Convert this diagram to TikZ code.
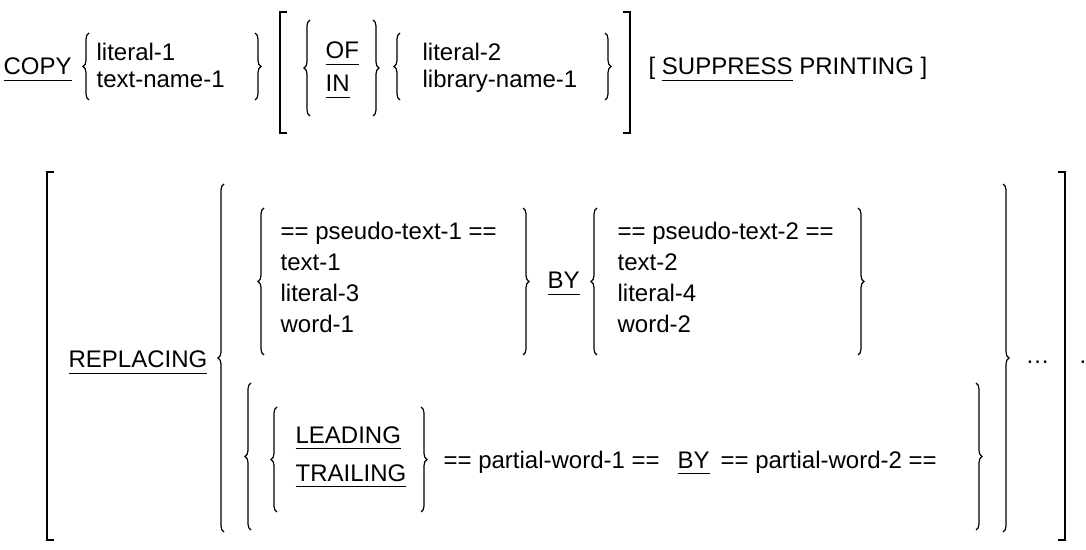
\documentclass[tikz,border=0pt]{standalone}
\usepackage{fontspec}
\setmainfont{Liberation Sans}
\usepackage{tikz}
\usetikzlibrary{positioning}
\usetikzlibrary{decorations.pathreplacing}

\newsavebox{\kwbox}
\newcommand{\kw}[1]{\sbox{\kwbox}{#1}\rlap{\rule[-3.2pt]{\wd\kwbox}{0.5pt}}\usebox{\kwbox}}

\begin{document}
\begin{tikzpicture}[x=0.5pt,y=-0.5pt,line width=0.6pt,
  every node/.style={anchor=base west,inner sep=0pt,font=\fontsize{12}{14}\selectfont},
  br/.style={decorate,decoration={brace,amplitude=3pt}}]
\useasboundingbox (0,0) rectangle (1086,550);
% COPY line
\node (copy) at (3,75) {\kw{COPY}};
\draw[br] (89,100) -- (89,33);
\node (lit1) at (96,61) {literal-1};
\node (txt1) at (96,88) {text-name-1};
\draw[br] (255,33) -- (255,100);
\draw (287,12) -- (280,12) -- (280,133) -- (287,133);
\draw[br] (310,116) -- (310,20);
\node (of) at (325,59) {\kw{OF}};
\node (in) at (325,92) {\kw{IN}};
\draw[br] (373,20) -- (373,116);
\draw[br] (400,100) -- (400,33);
\node (lit2) at (422,61) {literal-2};
\node (lib1) at (422,88) {library-name-1};
\draw[br] (605,33) -- (605,100);
\draw (623,12) -- (630,12) -- (630,133) -- (623,133);
\node (supp) at (648,75) {[ \kw{SUPPRESS} PRINTING ]};
% REPLACING clause
\draw (54,172) -- (47,172) -- (47,540) -- (54,540);
\node (repl) at (68,368) {\kw{REPLACING}};
\draw[br] (224,532) -- (224,184);
\draw[br] (264,355) -- (264,208);
\node (ps1) at (280,240) {== pseudo-text-1 ==};
\node (tx1) at (280,271) {text-1};
\node (lit3) at (280,302) {literal-3};
\node (wd1) at (280,333) {word-1};
\draw[br] (523,208) -- (523,355);
\node (by1) at (547,289) {\kw{BY}};
\draw[br] (597,355) -- (597,208);
\node (ps2) at (617,240) {== pseudo-text-2 ==};
\node (tx2) at (617,271) {text-2};
\node (lit4) at (617,302) {literal-4};
\node (wd2) at (617,333) {word-2};
\draw[br] (858,208) -- (858,355);
% LEADING / TRAILING
\draw[br] (251,530) -- (251,383);
\draw[br] (277,512) -- (277,407);
\node (lead) at (295,443) {\kw{LEADING}};
\node (trail) at (295,481) {\kw{TRAILING}};
\draw[br] (421,407) -- (421,512);
\node (pw1) at (443,468) {== partial-word-1 ==};
\node (by2) at (677,468) {\kw{BY}};
\node (pw2) at (720,468) {== partial-word-2 ==};
\draw[br] (976,383) -- (976,530);
\draw[br] (1003,184) -- (1003,532);
\node (dots) at (1025,364) {\ldots};
\draw (1058,172) -- (1065,172) -- (1065,540) -- (1058,540);
\node (stop) at (1079,364) {.};
\end{tikzpicture}
\end{document}
